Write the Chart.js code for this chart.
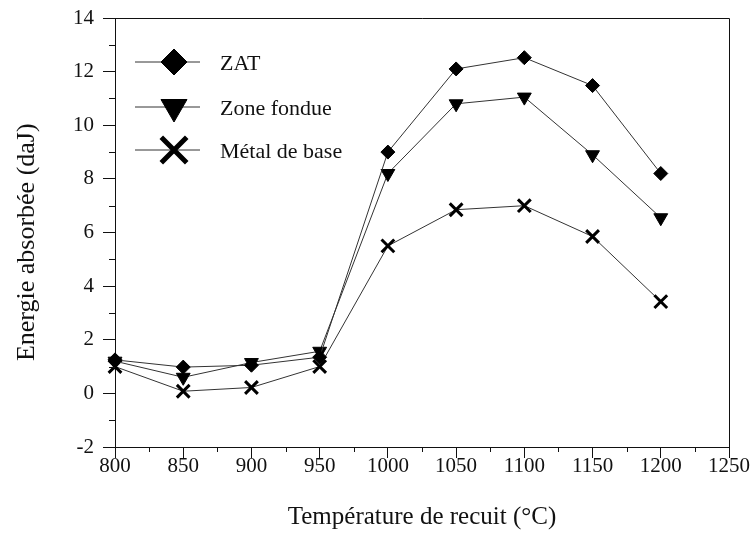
<!DOCTYPE html>
<html lang="fr">

<head>
    <title>Energie absorbée</title>
    <meta charset="utf-8" />
    <script src="https://cdn.jsdelivr.net/npm/chart.js"></script>
    <style>
        body { margin: 0; background: #fff; }
    </style>
</head>

<body>
    <canvas id="grafico" width="755" height="542"></canvas>

    <script>
        // Données
        const temperatures = [800, 850, 900, 950, 1000, 1050, 1100, 1150, 1200];
        const zat = [1.25, 0.98, 1.05, 1.35, 9.0, 12.1, 12.52, 11.48, 8.2];
        const zoneFondue = [1.2, 0.6, 1.15, 1.57, 8.2, 10.8, 11.05, 8.9, 6.55];
        const metalBase = [1.0, 0.08, 0.22, 1.0, 5.5, 6.85, 7.0, 5.85, 3.42];
        const seriesNoms = ["ZAT", "Zone fondue", "Métal de base"];

        const police = "'Liberation Serif', 'Times New Roman', serif";
        const points = vals => temperatures.map((t, i) => ({ x: t, y: vals[i] }));

        // cadre + petites graduations
        const cadre = {
            id: 'cadre',
            afterDraw(chart) {
                const { ctx, chartArea: a, scales } = chart;
                ctx.save();
                ctx.strokeStyle = '#111';
                ctx.lineWidth = 1;
                ctx.beginPath();
                ctx.moveTo(a.left, a.top + 0.5); ctx.lineTo(a.right + 0.5, a.top + 0.5);
                ctx.lineTo(a.right + 0.5, a.bottom);
                for (let v = -1; v < 14; v += 2) {
                    const py = Math.round(scales.y.getPixelForValue(v)) + 0.5;
                    ctx.moveTo(a.left - 6, py); ctx.lineTo(a.left, py);
                }
                for (let v = 825; v < 1250; v += 50) {
                    const px = Math.round(scales.x.getPixelForValue(v)) + 0.5;
                    ctx.moveTo(px, a.bottom); ctx.lineTo(px, a.bottom + 5);
                }
                ctx.stroke();
                ctx.restore();
            }
        };

        // légende dans le graphique
        const legende = {
            id: 'legende',
            afterDraw(chart) {
                const { ctx, chartArea: a } = chart;
                const rangs = [44, 89, 132];
                const styles = [
                    { pointStyle: 'rectRot', radius: 13, rotation: 0, borderWidth: 1 },
                    { pointStyle: 'triangle', radius: 15, rotation: 180, borderWidth: 1 },
                    { pointStyle: 'crossRot', radius: 18, rotation: 0, borderWidth: 5 }
                ];
                ctx.save();
                chart.data.datasets.forEach((ds, i) => {
                    const y = a.top + rangs[i];
                    ctx.strokeStyle = '#333';
                    ctx.lineWidth = 1;
                    ctx.beginPath();
                    ctx.moveTo(a.left + 20, y); ctx.lineTo(a.left + 85, y);
                    ctx.stroke();
                    ctx.fillStyle = '#000';
                    ctx.strokeStyle = '#000';
                    ctx.lineWidth = styles[i].borderWidth;
                    Chart.helpers.drawPoint(ctx, styles[i], a.left + 59, y);
                    ctx.fillStyle = '#111';
                    ctx.font = "22px " + police;
                    ctx.textBaseline = 'middle';
                    ctx.fillText(ds.label, a.left + 105, y + 2);
                });
                ctx.restore();
            }
        };

        const serie = (label, vals, style, radius, rotation, bw) => ({
            label: label,
            data: points(vals),
            borderColor: '#333',
            borderWidth: 1,
            pointStyle: style,
            pointRadius: radius,
            pointHoverRadius: radius,
            pointRotation: rotation,
            pointBackgroundColor: '#000',
            pointBorderColor: '#000',
            pointBorderWidth: bw,
            tension: 0,
            clip: false
        });

        const sansMarge = s => { s.paddingLeft = 0; s.paddingRight = 0; s.paddingTop = 0; s.paddingBottom = 0; };

        const ctx = document.querySelector('#grafico').getContext('2d');
        new Chart(ctx, {
            type: 'line',
            data: {
                datasets: [
                    serie(seriesNoms[0], zat, 'rectRot', 7, 0, 1),
                    serie(seriesNoms[1], zoneFondue, 'triangle', 8, 180, 1),
                    serie(seriesNoms[2], metalBase, 'crossRot', 9, 0, 3)
                ]
            },
            options: {
                responsive: false,
                animation: false,
                layout: { padding: { top: 18, right: 26, left: 0, bottom: 0 } },
                plugins: { legend: { display: false }, tooltip: { enabled: false } },
                scales: {
                    x: {
                        type: 'linear',
                        min: 800, max: 1250,
                        afterFit: s => { s.height = 95; sansMarge(s); },
                        ticks: {
                            stepSize: 50, padding: -4, color: '#111',
                            font: { family: police, size: 21 },
                            callback: v => String(v)
                        },
                        grid: { drawOnChartArea: false, tickLength: 11, color: '#111' },
                        border: { color: '#111', width: 1 },
                        title: {
                            display: true, text: 'Température de recuit (°C)', color: '#111',
                            font: { family: police, size: 25 }, padding: { top: 0, bottom: 10 }
                        }
                    },
                    y: {
                        min: -2, max: 14,
                        afterFit: s => { s.width = 115; sansMarge(s); },
                        ticks: { stepSize: 2, padding: 9, color: '#111', font: { family: police, size: 21 } },
                        grid: { drawOnChartArea: false, tickLength: 12, color: '#111' },
                        border: { color: '#111', width: 1 },
                        title: {
                            display: true, text: 'Energie absorbée (daJ)   ', color: '#111',
                            font: { family: police, size: 26 }, padding: { top: 12, bottom: 0 }
                        }
                    }
                }
            },
            plugins: [cadre, legende]
        });
    </script>
</body>

</html>
